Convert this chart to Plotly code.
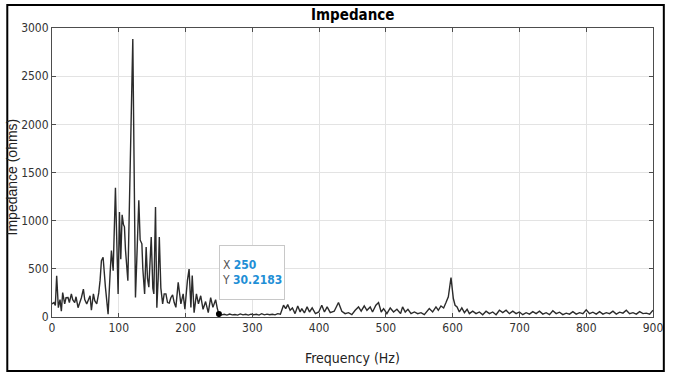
import plotly.graph_objects as go

freq_hz = [0, 3, 5, 7, 9.5, 12, 14, 16, 19, 21, 24, 26, 29, 31, 34, 36, 39, 42, 44, 47, 49, 52, 55, 57, 59,
           62, 64, 67, 70, 72, 74, 76.5, 80, 82, 84, 87, 89, 91.6, 95, 99, 101, 103, 105, 107, 108.5, 110,
           113.6, 121, 125, 127, 130, 132, 134.6, 136, 138.7, 141, 143, 145, 148.6, 151, 152.5, 155, 157,
           159, 160.7, 163, 165.7, 168, 170.6, 173, 175.6, 178, 180.6, 183, 185.5, 189, 193, 196.4, 199,
           202.8, 205.3, 208, 210, 212.8, 216.3, 219.3, 222.7, 226.2, 230, 234, 237.6, 241, 245, 247.5, 250,
           254, 258, 262, 266, 270, 274, 278, 282, 286, 290, 294, 298, 302, 306, 310, 314, 318, 322, 326,
           330, 334, 338, 342, 346.7, 350, 353, 356.6, 360, 364, 368, 371.6, 374, 378, 382, 385.6, 389.6,
           394.5, 399.5, 404, 408, 412, 416.7, 422.6, 429, 434, 439, 444, 449, 454, 459, 463, 467.6, 471.6,
           476.5, 480, 485, 489, 493, 496.6, 501.5, 506.5, 511.5, 516.5, 522, 525, 529, 533, 537.7, 542.7,
           547.6, 552.6, 557.5, 565, 570, 575, 578.5, 582.5, 586.5, 590, 593.5, 597.5, 601, 603.6, 606.6,
           610, 613.7, 617.6, 621.6, 625, 630, 635, 640, 645, 650, 655, 660, 665, 670, 675, 680, 685, 690,
           695, 700, 705, 710, 715, 720, 725, 730, 735, 740, 745, 750, 755, 760, 765, 770, 775, 780, 785,
           790, 795, 800, 805, 810, 815, 820, 825, 830, 835, 840, 845, 850, 855, 860, 865, 870, 875, 880,
           885, 890, 895, 900]

impedance_ohms = [136, 150, 120, 429, 97, 180, 60, 254, 136, 200, 202, 150, 240, 180, 150, 210, 97, 160, 200, 290, 180, 136, 180, 220, 70,
                  240, 170, 136, 250, 380, 585, 620, 310, 150, 30, 450, 690, 480, 1342, 240, 1091, 600, 1060, 960, 936, 700,
                  377, 2887, 202, 600, 1213, 800, 760, 500, 240, 727, 400, 310, 830, 300, 240, 1143, 97,
                  400, 830, 300, 136, 240, 240, 150, 145, 200, 230, 150, 100, 360, 136, 240, 80,
                  380, 498, 100, 430, 45, 240, 136, 220, 80, 160, 45, 200, 100, 180, 90, 30.2183,
                  22, 28, 20, 30, 22, 26, 20, 32, 22, 28, 20, 30, 24, 28, 20, 34, 22, 30, 24,
                  28, 22, 35, 30, 122, 87, 129, 70, 94, 35, 115, 52, 87, 42, 105, 52, 94,
                  35, 52, 122, 52, 105, 45, 60, 150, 60, 35, 45, 24, 70, 105, 60, 115, 70,
                  105, 52, 122, 150, 52, 87, 35, 94, 52, 80, 35, 105, 52, 80, 35, 52,
                  35, 45, 24, 87, 52, 105, 70, 115, 94, 150, 210, 410, 192, 122, 105,
                  52, 94, 45, 80, 35, 60, 35, 52, 24, 60, 35, 52, 24, 70, 45, 70, 35, 60,
                  35, 52, 24, 45, 30, 55, 35, 60, 30, 45, 25, 65, 35, 50, 25, 40, 30, 55, 30,
                  45, 35, 75, 35, 50, 30, 55, 30, 45, 35, 60, 30, 50, 40, 70, 35, 45, 30, 55,
                  35, 40, 30, 70]

tip_x = 250
tip_y = 30.2183

x_ticks = [0, 100, 200, 300, 400, 500, 600, 700, 800, 900]
y_ticks = [0, 500, 1000, 1500, 2000, 2500, 3000]

FONT = "DejaVu Sans Condensed, Liberation Sans Narrow, Liberation Sans, Arial, sans-serif"

fig = go.Figure()
fig.add_trace(go.Scatter(x=freq_hz, y=impedance_ohms, mode="lines",
                         line=dict(color="#2b2b2b", width=1.4), hoverinfo="skip"))
fig.add_trace(go.Scatter(x=[tip_x], y=[tip_y], mode="markers",
                         marker=dict(color="black", size=6, symbol="circle"), hoverinfo="skip"))

axis_common = dict(showline=True, linecolor="#4d4d4d", linewidth=1, mirror="ticks",
                   ticks="inside", ticklen=4, tickcolor="#4d4d4d", showgrid=True,
                   gridcolor="#e3e3e3", gridwidth=1, zeroline=False,
                   tickfont=dict(family=FONT, size=12, color="#333333"))

fig.update_xaxes(range=[0, 900], tickvals=x_ticks, ticktext=[str(v) for v in x_ticks], **axis_common)
fig.update_yaxes(range=[0, 3000], tickvals=y_ticks, ticktext=[str(v) for v in y_ticks], **axis_common)

fig.update_layout(
    width=675, height=377,
    margin=dict(l=52, r=18, t=28, b=60),
    paper_bgcolor="white", plot_bgcolor="white",
    showlegend=False,
    shapes=[dict(type="rect", xref="paper", yref="paper",
                 x0=-0.0744, x1=1.018, y0=-0.187, y1=1.080,
                 line=dict(color="black", width=2), fillcolor="rgba(0,0,0,0)", layer="above")],
    annotations=[
        dict(text="<b>Impedance</b>", xref="paper", yref="paper", x=0.5, y=1.0, yshift=2,
             xanchor="center", yanchor="bottom", showarrow=False,
             font=dict(family=FONT, size=15, color="black")),
        dict(text="Frequency (Hz)", xref="paper", yref="paper", x=0.5, y=-0.142,
             xanchor="center", yanchor="middle", showarrow=False,
             font=dict(family=FONT, size=14, color="#222222")),
        dict(text="Impedance (ohms)", xref="paper", yref="paper", x=-0.066, y=0.484,
             xanchor="center", yanchor="middle", textangle=-90, showarrow=False,
             font=dict(family="Liberation Sans, Arial, sans-serif", size=14, color="#222222")),
        dict(text=("X <b><span style='color:#1f8fd6'>%d</span></b><br>"
                   "Y <b><span style='color:#1f8fd6'>%s</span></b>") % (tip_x, tip_y),
             xref="x", yref="paper", x=tip_x, y=0.249, xanchor="left", yanchor="top",
             showarrow=False, align="left", valign="middle", width=60, height=49,
             borderpad=2, bordercolor="#c8c8c8", borderwidth=1, bgcolor="white",
             font=dict(family=FONT, size=12, color="#555555")),
    ],
)

fig.write_html("out.html")
